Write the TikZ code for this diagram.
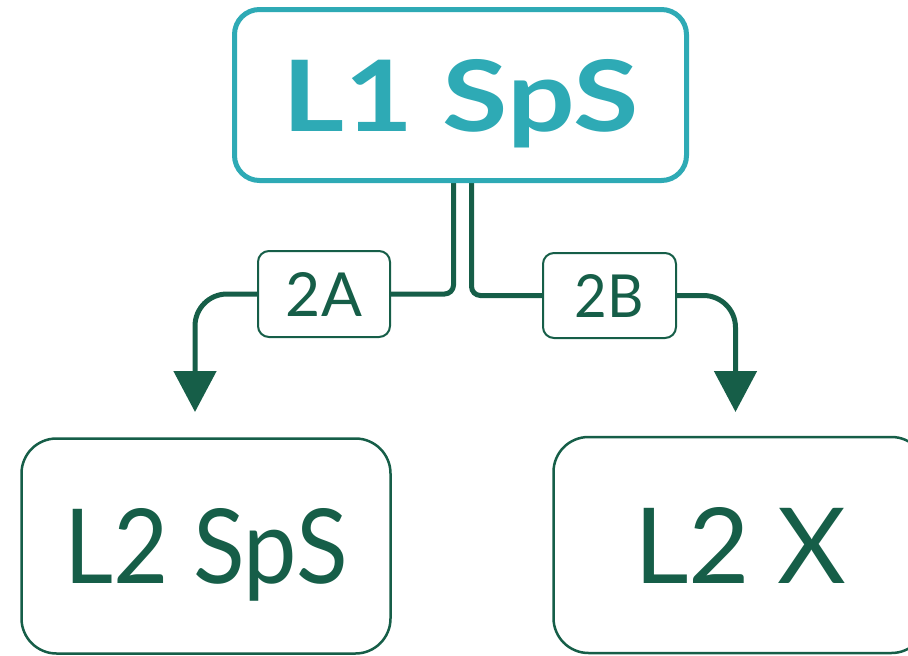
\documentclass[tikz,border=0pt]{standalone}
\usepackage{fontspec}
\usepackage{graphicx}
\setmainfont{Lato}
\usetikzlibrary{arrows.meta,backgrounds}
\definecolor{tealc}{HTML}{2EAAB5}
\definecolor{dgreen}{HTML}{165E48}
\begin{document}
\begin{tikzpicture}[x=1pt,y=-1pt,
  topbox/.style={draw=tealc, line width=5pt, rounded corners=25pt, text=tealc, inner sep=0pt, fill=white},
  labbox/.style={draw=dgreen, line width=2pt, rounded corners=11pt, text=dgreen, inner sep=0pt, fill=white},
  lowbox/.style={draw=dgreen, line width=2.5pt, rounded corners=35pt, text=dgreen, inner sep=0pt, fill=white},
  conn/.style={draw=dgreen, line width=5pt},
  tip/.style={-{Triangle[length=41pt,width=42pt]}}]
\useasboundingbox (0,0) rectangle (908,656);

\node[topbox, minimum width=452pt, minimum height=171pt, text height=72pt, text depth=0pt] (top) at (460.5,95)
  {\resizebox{356pt}{72pt}{\bfseries L1 SpS}};

\node[labbox, minimum width=132pt, minimum height=86pt, text height=44pt, text depth=0pt] (lab2A) at (324,294)
  {\resizebox{76pt}{44pt}{2A}};
\node[labbox, minimum width=133pt, minimum height=85pt, text height=43pt, text depth=0pt] (lab2B) at (609.5,295.5)
  {\resizebox{69pt}{43pt}{2B}};

\node[lowbox, minimum width=369pt, minimum height=215pt, text height=75pt, text depth=0pt] (l2sps) at (206,546)
  {\resizebox{283pt}{75pt}{L2 SpS}};
\node[lowbox, minimum width=373pt, minimum height=216pt, text height=76pt, text depth=0pt] (l2x) at (740,545)
  {\resizebox{212pt}{76pt}{L2 X}};

\coordinate (tipA) at (195,412);
\coordinate (tipB) at (735.5,412);

\begin{scope}[on background layer]
\draw[conn, rounded corners=9pt] ([xshift=-7pt]top.south) |- (lab2A.east);
\draw[conn, rounded corners=9pt] ([xshift=11pt]top.south) |- (lab2B.west);
\draw[conn, tip, rounded corners=32pt] (lab2A.west) -| (tipA);
\draw[conn, tip, rounded corners=32pt] (lab2B.east) -| (tipB);
\end{scope}
\end{tikzpicture}
\end{document}
